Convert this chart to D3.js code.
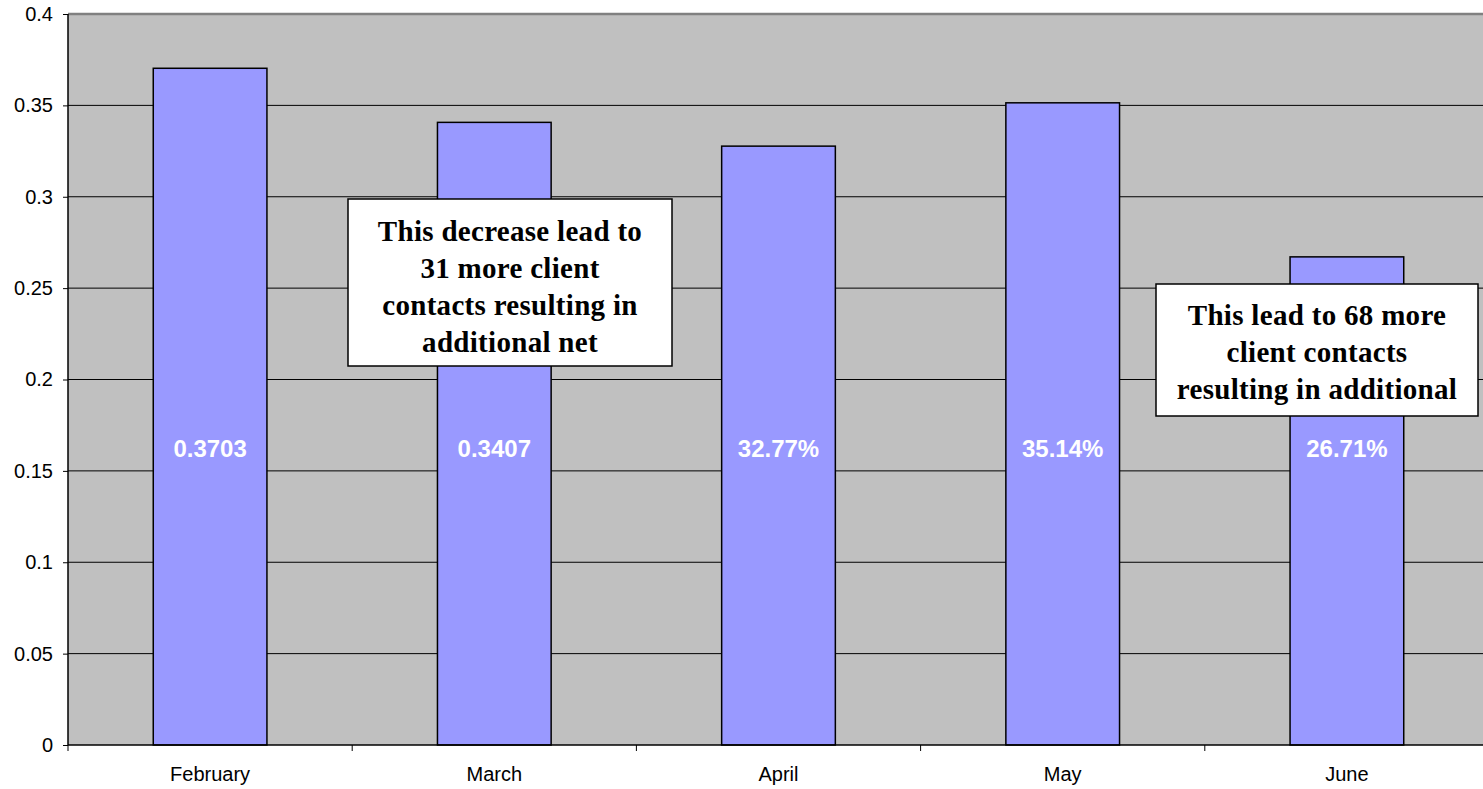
<!DOCTYPE html>
<html lang="en">
<head>
    <meta charset="UTF-8">
    <title>Monthly rate</title>
    <script src="https://d3js.org/d3.v7.min.js"></script>
    <style>
        html,
        body {
            margin: 0;
            height: 100%;
            overflow: hidden;
            background: #fff;
        }
    </style>
</head>
<body>
    <svg id="svg"></svg>
    <script>
        // data
        const months = ['February', 'March', 'April', 'May', 'June'];
        const values = [0.3703, 0.3407, 0.3277, 0.3514, 0.2671];
        const valueLabels = ['0.3703', '0.3407', '32.77%', '35.14%', '26.71%'];
        const yTicks = [0, 0.05, 0.1, 0.15, 0.2, 0.25, 0.3, 0.35, 0.4];
        const notes = [
            ['This decrease lead to', '31 more client', 'contacts resulting in', 'additional net'],
            ['This lead to 68 more', 'client contacts', 'resulting in additional']
        ];

        const width = 1483, height = 789;
        const svg = d3.select('#svg').attr('width', width).attr('height', height);

        const pLeft = 68, pRight = 1489, pTop = 14, pBottom = 745;
        const sans = 'Liberation Sans, Arial, sans-serif';

        const x = d3.scaleBand().domain(months).range([pLeft, pRight])
            .paddingInner(0.6).paddingOuter(0.3);
        const y = d3.scaleLinear().domain([0, 0.4]).range([pBottom, pTop]);

        // plot background
        svg.append('rect')
            .attr('x', pLeft).attr('y', pTop)
            .attr('width', pRight - pLeft).attr('height', pBottom - pTop)
            .attr('fill', '#c0c0c0');

        // gridlines
        svg.append('g').selectAll('line').data(yTicks.slice(1, -1)).join('line')
            .attr('x1', pLeft).attr('x2', pRight)
            .attr('y1', d => y(d)).attr('y2', d => y(d))
            .attr('stroke', '#000').attr('stroke-width', 1);

        // top border
        svg.append('line')
            .attr('x1', pLeft).attr('x2', pRight)
            .attr('y1', pTop).attr('y2', pTop)
            .attr('stroke', '#808080').attr('stroke-width', 2.5);

        // bars
        svg.append('g').selectAll('rect').data(values).join('rect')
            .attr('x', (d, i) => x(months[i]))
            .attr('y', d => y(d))
            .attr('width', x.bandwidth())
            .attr('height', d => pBottom - y(d))
            .attr('fill', '#9999ff')
            .attr('stroke', '#000')
            .attr('stroke-width', 1.5);

        // value labels
        svg.append('g').selectAll('text').data(valueLabels).join('text')
            .attr('x', (d, i) => x(months[i]) + x.bandwidth() / 2)
            .attr('y', y(0.162))
            .attr('text-anchor', 'middle')
            .attr('dominant-baseline', 'central')
            .attr('fill', '#fff')
            .attr('font-family', sans)
            .attr('font-weight', 'bold')
            .attr('font-size', 24)
            .text(d => d);

        // y axis
        const yAxis = svg.append('g')
            .attr('transform', `translate(${pLeft},0)`)
            .call(d3.axisLeft(y).tickValues(yTicks).tickSize(5).tickFormat(d3.format('')));
        yAxis.attr('font-size', null).attr('font-family', null);
        yAxis.select('.domain').attr('stroke', '#000').attr('stroke-width', 1.5)
            .attr('d', `M0,${pTop}V${pBottom}`);
        yAxis.selectAll('.tick text')
            .attr('font-family', sans)
            .attr('font-size', 20).attr('fill', '#000').attr('x', -15);

        // x axis
        const xAxis = svg.append('g')
            .attr('transform', `translate(0,${pBottom})`)
            .call(d3.axisBottom(x).tickSize(0).tickPadding(22));
        xAxis.attr('font-size', null).attr('font-family', null);
        xAxis.select('.domain').attr('stroke', '#000').attr('stroke-width', 1.5)
            .attr('d', `M${pLeft},0H${pRight}`);
        xAxis.selectAll('.tick text')
            .attr('font-family', sans)
            .attr('font-size', 20).attr('fill', '#000');
        // category separator ticks
        xAxis.append('g').selectAll('line').data(months).join('line')
            .attr('x1', d => x(d) - x.step() * x.paddingOuter())
            .attr('x2', d => x(d) - x.step() * x.paddingOuter())
            .attr('y1', 0).attr('y2', 6)
            .attr('stroke', '#000').attr('stroke-width', 1);

        // annotation boxes
        const boxes = [
            { x: 348, y: 199, w: 324, h: 167, first: 234, size: 29 },
            { x: 1156, y: 284, w: 322, h: 132, first: 318, size: 29 }
        ];
        boxes.forEach((b, k) => {
            const g = svg.append('g');
            g.append('rect')
                .attr('x', b.x).attr('y', b.y).attr('width', b.w).attr('height', b.h)
                .attr('fill', '#fff').attr('stroke', '#000').attr('stroke-width', 1.5);
            g.selectAll('text').data(notes[k]).join('text')
                .attr('x', b.x + b.w / 2)
                .attr('y', (d, i) => b.first + i * 37)
                .attr('text-anchor', 'middle')
                .attr('dominant-baseline', 'middle')
                .attr('font-family', 'Liberation Serif, Times New Roman, serif')
                .attr('font-weight', 'bold')
                .attr('font-size', b.size)
                .attr('letter-spacing', 0.3)
                .attr('fill', '#000')
                .text(d => d);
        });
    </script>
</body>
</html>
